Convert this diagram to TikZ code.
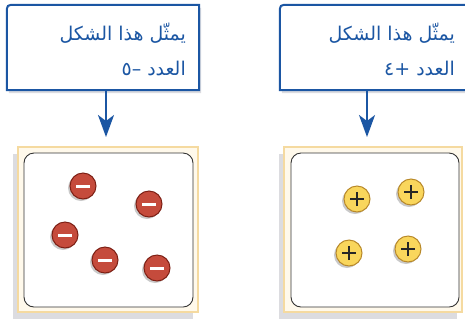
\documentclass[tikz,border=0pt]{standalone}
\usepackage{fontspec}
\newfontfamily\arabicfont[Script=Arabic]{DejaVu Sans}
\TeXXeTstate=1
\usetikzlibrary{arrows.meta, shadows}
\definecolor{calloutblue}{RGB}{27, 86, 163}
\definecolor{framecream}{RGB}{255, 249, 235}
\definecolor{frameedge}{RGB}{245, 218, 160}
\definecolor{chargered}{RGB}{197, 75, 60}
\definecolor{chargeredline}{RGB}{125, 32, 21}
\definecolor{chargeyellow}{RGB}{249, 214, 92}
\definecolor{chargeyellowline}{RGB}{184, 137, 42}
\definecolor{shadowgray}{RGB}{220, 220, 224}

\begin{document}
\begin{tikzpicture}[x=1bp, y=-1bp,
    calloutbox/.style={minimum width=#1, minimum height=85bp, inner sep=0pt},
    calltext/.style={anchor=east, inner sep=0pt, text=calloutblue, font=\arabicfont\fontsize{19}{22}\selectfont},
    pointer/.style={calloutblue, line width=2bp, -{Stealth[length=22bp, width=16bp, inset=6bp]}},
    panelframe/.style={draw=frameedge, fill=framecream, line width=2.5bp, minimum width=#1, minimum height=165bp, inner sep=0pt,
        drop shadow={shadow xshift=-5bp, shadow yshift=-7bp, fill=shadowgray, opacity=1}},
    panel/.style={draw=black!80, fill=white, line width=0.9bp, rounded corners=10bp, minimum width=#1, minimum height=154bp, inner sep=0pt},
    negcharge/.style={circle, minimum size=26bp, inner sep=0pt, fill=chargered, draw=chargeredline, line width=1bp,
        drop shadow={shadow xshift=-2bp, shadow yshift=-2bp, fill=black!35, opacity=0.6},
        path picture={\draw[white, line width=3bp] ([xshift=-7bp]path picture bounding box.center) -- ([xshift=7bp]path picture bounding box.center);}},
    poscharge/.style={circle, minimum size=26bp, inner sep=0pt, fill=chargeyellow, draw=chargeyellowline, line width=1bp,
        drop shadow={shadow xshift=-2bp, shadow yshift=-2bp, fill=black!35, opacity=0.6},
        path picture={\draw[black!85, line width=1.6bp] ([xshift=-7bp]path picture bounding box.center) -- ([xshift=7bp]path picture bounding box.center)
            ([yshift=-7bp]path picture bounding box.center) -- ([yshift=7bp]path picture bounding box.center);}}]
    \clip (0,0) rectangle (465,321);
    \fill[white] (0,0) rectangle (465,321);

    % callout boxes
    \node[calloutbox=192bp] (lbox) at (103,47.5) {};
    \node[calloutbox=205bp] (rbox) at (382.5,47.5) {};
    \foreach \b in {lbox, rbox} {
        \fill[shadowgray] ([xshift=2bp, yshift=-3bp]\b.south west) -- ([xshift=2bp, yshift=-12bp]\b.north west)
            .. controls ([xshift=2bp, yshift=-3bp]\b.north west) .. ([xshift=11bp, yshift=-3bp]\b.north west)
            -- ([xshift=2bp, yshift=-3bp]\b.north east) -- ([xshift=2bp, yshift=-3bp]\b.south east) -- cycle;
        \draw[calloutblue, line width=2bp, fill=white] (\b.south west) -- ([yshift=-9bp]\b.north west)
            .. controls (\b.north west) .. ([xshift=9bp]\b.north west)
            -- (\b.north east) -- (\b.south east) -- cycle;
    }
    \node[calltext] (lline1) at (186,33) {\beginR يمثّل هذا الشكل\endR};
    \node[calltext] (lline2) at (186,68) {\beginR العدد –\kern0pt ٥\endR};
    \node[calltext] (rline1) at (455,33) {\beginR يمثّل هذا الشكل\endR};
    \node[calltext] (rline2) at (455,68) {\beginR العدد +\kern0pt ٤\endR};

    % panels
    \node[panelframe=180bp] (lframe) at (108,229.5) {};
    \node[panelframe=178bp] (rframe) at (373,229.5) {};
    \node[panel=169bp] (lpanel) at (108.5,230) {};
    \node[panel=168bp] (rpanel) at (375,230) {};

    % arrows
    \coordinate (ltip) at (106,137);
    \coordinate (rtip) at (367,137);
    \draw[pointer] (lbox.south -| ltip) -- (ltip);
    \draw[pointer] (rbox.south -| rtip) -- (rtip);

    % charges
    \foreach \pos [count=\i] in {(83,186), (149,204), (65,235), (105,260), (157,268)}
        \node[negcharge] (neg\i) at \pos {};
    \foreach \pos [count=\i] in {(357,199), (411,192), (349,253), (408,249)}
        \node[poscharge] (pos\i) at \pos {};
\end{tikzpicture}
\end{document}
